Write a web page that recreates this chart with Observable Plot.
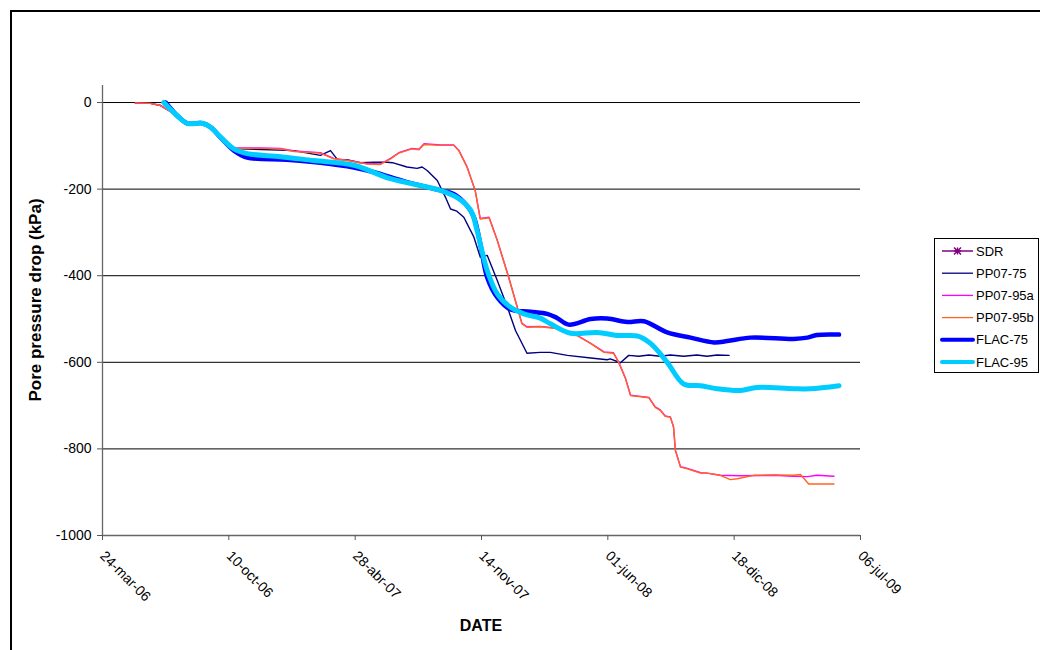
<!DOCTYPE html>
<html>
<head>
<meta charset="utf-8">
<script src="https://cdn.jsdelivr.net/npm/d3@7"></script>
<script src="https://cdn.jsdelivr.net/npm/@observablehq/plot@0.6"></script>
<style>
  html, body { margin: 0; padding: 0; background: #fff; }
  body { width: 1040px; height: 650px; position: relative; overflow: hidden; font-family: "Liberation Sans", Arial, sans-serif; }
  #frame { position: absolute; left: 10px; top: 10px; width: 1100px; height: 700px; border: 2px solid #000; box-sizing: border-box; }
  #chart { position: absolute; left: 0; top: 0; }
  #ytitle { position: absolute; left: 36px; top: 300px; transform: translate(-50%, -50%) rotate(-90deg); font-weight: bold; font-size: 17px; white-space: nowrap; color: #000; }
  #xtitle { position: absolute; left: 481px; top: 626px; transform: translate(-50%, -50%); font-weight: bold; font-size: 16px; color: #000; }
  #legend { position: absolute; left: 934px; top: 238px; }
</style>
</head>
<body>
<div id="frame"></div>
<div id="chart"></div>
<div id="ytitle">Pore pressure drop (kPa)</div>
<div id="xtitle">DATE</div>
<div id="legend"></div>
<script>
// ---- Axis ticks ----
const xTickDates = ["2006-03-24","2006-10-10","2007-04-28","2007-11-14","2008-06-01","2008-12-18","2009-07-06"];
const xTickLabels = ["24-mar-06","10-oct-06","28-abr-07","14-nov-07","01-jun-08","18-dic-08","06-jul-09"];
const yTicks = [0, -200, -400, -600, -800, -1000];

// ---- Series names ----
const seriesNames = ["SDR", "PP07-75", "PP07-95a", "PP07-95b", "FLAC-75", "FLAC-95"];

// ---- PP07-75 ----
const pp75Dates = ["2006-05-15","2006-06-08","2006-06-24","2006-07-20","2006-08-05","2006-08-29","2006-09-11","2006-09-27","2006-10-18","2006-10-28","2007-01-21","2007-03-04","2007-03-20","2007-03-31","2007-04-15","2007-05-06","2007-05-28","2007-06-18","2007-06-26","2007-07-19","2007-08-04","2007-08-12","2007-08-20","2007-09-05","2007-09-18","2007-09-26","2007-10-06","2007-10-17","2007-11-02","2007-11-12","2007-11-23","2007-12-09","2007-12-25","2008-01-07","2008-01-25","2008-02-15","2008-03-02","2008-03-29","2008-05-05","2008-05-31","2008-06-05","2008-06-21","2008-07-04","2008-07-20","2008-08-05","2008-08-23","2008-09-08","2008-09-29","2008-10-20","2008-11-05","2008-11-21","2008-12-10"];
const pp75Values = [-1,-2,-7,-30,-47,-47,-57,-80,-106,-107,-111,-122,-111,-132,-132,-139,-138,-138,-139,-149,-152,-149,-157,-180,-219,-246,-251,-265,-311,-357,-353,-411,-473,-527,-579,-577,-577,-584,-590,-594,-592,-601,-584,-586,-583,-586,-583,-586,-583,-586,-583,-584];

// ---- PP07-95b ----
const pp95bDates = ["2006-05-15","2006-06-08","2006-06-24","2006-07-20","2006-08-05","2006-08-29","2006-09-11","2006-09-27","2006-10-18","2006-11-29","2006-12-31","2007-01-21","2007-03-04","2007-03-25","2007-04-15","2007-05-17","2007-06-07","2007-06-23","2007-07-06","2007-07-27","2007-08-07","2007-08-15","2007-09-10","2007-10-01","2007-10-09","2007-10-22","2007-11-04","2007-11-12","2007-11-26","2007-12-09","2007-12-27","2008-01-17","2008-01-25","2008-02-15","2008-03-18","2008-04-08","2008-05-05","2008-05-26","2008-06-10","2008-06-18","2008-06-29","2008-07-07","2008-08-05","2008-08-15","2008-08-23","2008-08-31","2008-09-08","2008-09-13","2008-09-16","2008-09-24","2008-10-05","2008-10-26","2008-11-05","2008-11-26","2008-12-12","2008-12-23","2009-01-18","2009-02-19","2009-03-22","2009-04-02","2009-04-15","2009-05-25"];
const pp95bValues = [-1,-2,-7,-30,-47,-47,-57,-80,-106,-106,-107,-113,-117,-130,-134,-142,-143,-130,-117,-107,-109,-97,-99,-99,-111,-149,-203,-269,-266,-319,-404,-511,-519,-518,-523,-534,-557,-577,-579,-600,-638,-677,-682,-704,-711,-725,-727,-750,-804,-842,-846,-856,-856,-861,-871,-869,-861,-860,-861,-859,-881,-881];

// ---- PP07-95a ----
const pp95aDates = ["2006-05-15","2006-06-08","2006-06-24","2006-07-20","2006-08-05","2006-08-29","2006-09-11","2006-09-27","2006-10-18","2006-11-29","2006-12-31","2007-01-21","2007-03-04","2007-03-25","2007-04-15","2007-05-17","2007-06-07","2007-06-23","2007-07-06","2007-07-27","2007-08-07","2007-08-15","2007-09-10","2007-10-01","2007-10-09","2007-10-22","2007-11-04","2007-11-12","2007-11-26","2007-12-09","2007-12-27","2008-01-17","2008-01-25","2008-02-15","2008-03-18","2008-04-08","2008-05-05","2008-05-26","2008-06-10","2008-06-18","2008-06-29","2008-07-07","2008-08-05","2008-08-15","2008-08-23","2008-08-31","2008-09-08","2008-09-13","2008-09-16","2008-09-24","2008-10-05","2008-10-26","2008-11-05","2008-11-26","2008-12-28","2009-02-19","2009-03-22","2009-04-13","2009-04-28","2009-05-25"];
const pp95aValues = [-1,-2,-7,-30,-47,-47,-57,-80,-105,-105,-106,-112,-116,-129,-133,-141,-142,-129,-116,-106,-108,-95,-98,-98,-110,-148,-203,-268,-265,-318,-403,-510,-518,-517,-522,-533,-556,-576,-578,-599,-637,-676,-681,-703,-710,-724,-726,-749,-803,-841,-845,-855,-856,-861,-862,-861,-863,-864,-861,-863];

// ---- FLAC-75 ----
const flac75Dates = ["2006-07-02","2006-07-20","2006-08-05","2006-08-29","2006-09-11","2006-09-27","2006-10-18","2006-11-08","2007-01-10","2007-03-04","2007-04-26","2007-05-28","2007-07-19","2007-09-10","2007-10-01","2007-10-22","2007-11-02","2007-11-12","2007-11-23","2007-12-09","2007-12-30","2008-01-31","2008-02-26","2008-03-12","2008-03-31","2008-05-05","2008-05-31","2008-07-02","2008-07-28","2008-09-03","2008-10-10","2008-11-16","2008-12-07","2009-01-13","2009-03-22","2009-04-13","2009-04-28","2009-06-02"];
const flac75Values = [0,-30,-48,-48,-57,-81,-111,-127,-132,-139,-150,-161,-184,-203,-211,-238,-265,-326,-404,-450,-478,-483,-488,-497,-513,-500,-499,-507,-505,-531,-543,-554,-551,-543,-546,-543,-537,-536];

// ---- FLAC-95 ----
const flac95Dates = ["2006-06-29","2006-07-20","2006-08-05","2006-08-29","2006-09-11","2006-09-27","2006-10-18","2006-11-08","2006-12-31","2007-02-21","2007-04-26","2007-06-23","2007-09-10","2007-10-06","2007-10-28","2007-11-07","2007-11-23","2007-12-09","2007-12-30","2008-01-20","2008-02-15","2008-03-02","2008-04-03","2008-05-15","2008-06-16","2008-07-20","2008-08-08","2008-09-03","2008-09-29","2008-10-26","2008-11-21","2008-12-28","2009-01-23","2009-03-22","2009-04-18","2009-06-02"];
const flac95Values = [0,-30,-48,-48,-57,-80,-107,-118,-125,-134,-145,-176,-203,-219,-249,-296,-388,-442,-473,-488,-498,-511,-533,-531,-538,-540,-557,-600,-650,-654,-661,-665,-658,-661,-661,-654];

// ---- build tables ----
const parse = s => new Date(s + "T00:00:00Z");
const zip = (ds, vs) => ds.map((d, i) => ({date: parse(d), value: vs[i]}));
const series = [
  {name: "PP07-75",  data: zip(pp75Dates, pp75Values),   color: "#000080", width: 1.4, curve: "linear"},
  {name: "PP07-95a", data: zip(pp95aDates, pp95aValues), color: "#ff00ff", width: 1.4, curve: "linear"},
  {name: "PP07-95b", data: zip(pp95bDates, pp95bValues), color: "#ff6420", width: 1.4, curve: "linear"},
  {name: "FLAC-75",  data: zip(flac75Dates, flac75Values), color: "#0000ff", width: 4.5, curve: "catmull-rom"},
  {name: "FLAC-95",  data: zip(flac95Dates, flac95Values), color: "#00ccff", width: 5, curve: "catmull-rom"}
];

const xDates = xTickDates.map(parse);
const x0 = xDates[0], x1 = xDates[xDates.length - 1];
const yTop = 39.3;
const tickFmt = d => xTickLabels[xDates.findIndex(t => +t === +d)];

const chart = Plot.plot({
  width: 1040,
  height: 650,
  marginLeft: 102,
  marginRight: 180,
  marginTop: 85,
  marginBottom: 115,
  x: {type: "utc", domain: [x0, x1]},
  y: {domain: [-1000, yTop]},
  style: {fontFamily: "'Liberation Sans', Arial, sans-serif", fontSize: "14px", color: "#000", background: "transparent"},
  marks: [
    Plot.ruleY(yTicks.filter(v => v > -1000), {stroke: "#000", strokeWidth: 1}),
    Plot.ruleX([x0], {stroke: "#666", strokeWidth: 1.3}),
    Plot.ruleY([-1000], {stroke: "#666", strokeWidth: 1.3}),
    Plot.axisY({ticks: yTicks, tickSize: 5, tickPadding: 6, label: null, stroke: "#555", tickFormat: d => String(d)}),
    Plot.axisX({ticks: xDates, tickFormat: tickFmt, tickRotate: 45, tickSize: 5, tickPadding: 13, label: null, stroke: "#555"}),
    ...series.map(s => Plot.line(s.data, {x: "date", y: "value", stroke: s.color, strokeWidth: s.width, curve: s.curve, strokeLinejoin: "round", strokeLinecap: "round"}))
  ]
});
document.getElementById("chart").appendChild(chart);

// ---- legend ----
const legendItems = [
  {name: "SDR", color: "#800080", width: 1.5, star: true},
  ...series.map(s => ({name: s.name, color: s.color, width: s.width < 2 ? 1.3 : 4}))
];
const ns = "http://www.w3.org/2000/svg";
const lg = document.createElementNS(ns, "svg");
lg.setAttribute("width", 106); lg.setAttribute("height", 136);
const rect = document.createElementNS(ns, "rect");
rect.setAttribute("x", 0.5); rect.setAttribute("y", 0.5); rect.setAttribute("width", 104); rect.setAttribute("height", 134);
rect.setAttribute("fill", "#fff"); rect.setAttribute("stroke", "#000");
lg.appendChild(rect);
legendItems.forEach((it, i) => {
  const cy = 13 + i * 22.2;
  const ln = document.createElementNS(ns, "line");
  ln.setAttribute("x1", 8); ln.setAttribute("x2", 39); ln.setAttribute("y1", cy); ln.setAttribute("y2", cy);
  ln.setAttribute("stroke", it.color); ln.setAttribute("stroke-width", it.width);
  ln.setAttribute("stroke-linecap", it.width > 2 ? "round" : "butt");
  lg.appendChild(ln);
  if (it.star) {
    const cx = 23.5, r = 3.5;
    [[-r, 0, r, 0], [0, -r, 0, r], [-r, -r, r, r], [-r, r, r, -r]].forEach(([a, b, c, d]) => {
      const s = document.createElementNS(ns, "line");
      s.setAttribute("x1", cx + a); s.setAttribute("y1", cy + b); s.setAttribute("x2", cx + c); s.setAttribute("y2", cy + d);
      s.setAttribute("stroke", it.color); s.setAttribute("stroke-width", 1.5);
      lg.appendChild(s);
    });
  }
  const t = document.createElementNS(ns, "text");
  t.setAttribute("x", 42); t.setAttribute("y", cy); t.setAttribute("dy", "0.35em");
  t.setAttribute("font-family", "'Liberation Sans', Arial, sans-serif"); t.setAttribute("font-size", 13);
  t.textContent = it.name;
  lg.appendChild(t);
});
document.getElementById("legend").appendChild(lg);
</script>
</body>
</html>
